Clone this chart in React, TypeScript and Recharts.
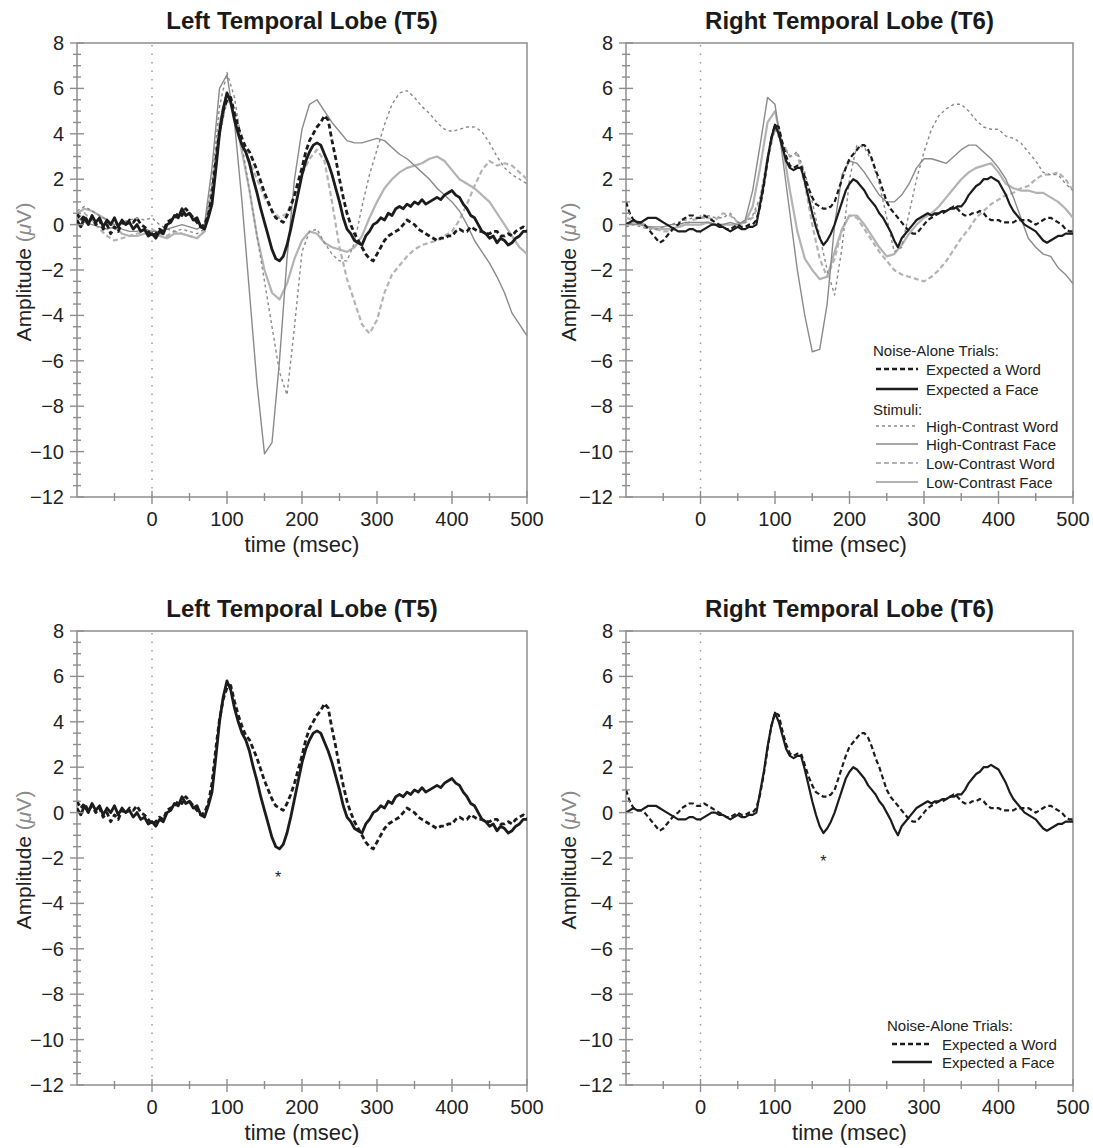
import React from "react";
import {
  LineChart,
  Line,
  XAxis,
  YAxis,
  ReferenceLine,
  ReferenceArea,
  ReferenceDot,
} from "recharts";

const FONT = '"Liberation Sans", Arial, Helvetica, sans-serif';
const AXIS = "#8e8e8e";
const INK = "#1c1c1c";
const MID = "#8a8a8a";
const LIGHT = "#b3b3b3";

// sampling clock of the averaged ERPs (msec)
const grid = (step: number) => {
  const out: number[] = [];
  for (let t = -100; t <= 500; t += step) out.push(t);
  return out;
};
const t5 = grid(5);
const t10 = grid(10);

// ---- T5 (left) noise-alone trials, 5 ms steps
const leftExpWord = [
  0.5, 0.2, 0.4, 0.1, 0.3, 0.0, 0.2, -0.2, 0.0, -0.4,
  -0.1, -0.3, 0.1, 0.0, 0.2, 0.1, 0.3, 0.0, -0.1, -0.3,
  -0.5, -0.4, -0.2, -0.3, 0.1, 0.2, 0.3, 0.5, 0.4, 0.7,
  0.5, 0.3, 0.1, -0.1, 0.0, 0.4, 1.3, 2.8, 4.1, 5.0,
  5.5, 5.6, 4.9, 4.3, 3.8, 3.4, 3.2, 2.8, 2.4, 1.9,
  1.4, 1.0, 0.6, 0.3, 0.2, 0.1, 0.4, 0.8, 1.3, 1.9,
  2.5, 3.2, 3.7, 4.0, 4.3, 4.5, 4.8, 4.6, 3.7, 2.9,
  2.0, 1.2, 0.5, 0.0, -0.4, -0.7, -1.0, -1.3, -1.5, -1.6,
  -1.3, -1.0, -0.7, -0.5, -0.4, -0.3, -0.2, 0.0, 0.2, 0.1,
  0.0, -0.2, -0.3, -0.4, -0.5, -0.6, -0.7, -0.6, -0.6, -0.5,
  -0.5, -0.3, -0.2, -0.3, -0.3, -0.1, -0.2, -0.3, -0.3, -0.4,
  -0.4, -0.3, -0.3, -0.5, -0.5, -0.4, -0.5, -0.3, -0.2, -0.1,
  -0.2,
];
const leftExpFace = [
  0.2, -0.1, 0.3, 0.0, 0.4, 0.1, 0.3, -0.1, 0.2, 0.0,
  0.3, -0.1, 0.2, 0.0, 0.1, -0.2, 0.0, -0.3, -0.2, -0.5,
  -0.4, -0.6, -0.3, -0.4, 0.0, 0.1, 0.4, 0.3, 0.7, 0.4,
  0.5, 0.2, 0.3, -0.1, -0.2, 0.3, 0.9, 2.4, 4.0, 5.1,
  5.8, 5.4, 4.6, 4.0, 3.5, 3.2, 2.7, 2.0, 1.4, 0.7,
  0.1, -0.5, -1.1, -1.5, -1.6, -1.4, -0.9, -0.2, 0.6, 1.4,
  2.2, 2.8, 3.2, 3.5, 3.6, 3.5, 3.1, 2.7, 2.2, 1.6,
  1.0, 0.3, -0.2, -0.4, -0.7, -0.8, -0.9, -0.5, -0.3, 0.0,
  0.1, 0.3, 0.2, 0.5, 0.4, 0.7, 0.8, 0.7, 0.9, 0.8,
  1.0, 0.9, 1.1, 0.9, 1.0, 1.1, 1.2, 1.1, 1.3, 1.4,
  1.5, 1.3, 1.2, 0.9, 0.7, 0.4, 0.3, 0.0, -0.3, -0.4,
  -0.6, -0.5, -0.8, -0.6, -0.7, -0.9, -0.8, -0.6, -0.5, -0.3,
  -0.3,
];

// ---- T5 (left) stimuli, 10 ms steps
const leftHiWord = [
  0.6, 0.8, 0.6, 0.4, 0.2, 0.0, 0.1, 0.2, 0.3, 0.2,
  0.3, 0.0, -0.2, -0.3, -0.2, -0.3, -0.4, -0.2, 2.0, 5.2,
  6.7, 5.6, 3.5, 1.5, -0.5, -2.5, -4.5, -6.5, -7.5, -4.5,
  -1.2, -0.3, -0.2, -0.8, -1.3, -1.6, -1.6, -0.8, 0.8, 2.2,
  3.3, 4.4, 5.3, 5.8, 5.9, 5.6, 5.2, 4.9, 4.5, 4.2,
  4.1, 4.2, 4.3, 4.3, 4.1, 3.6, 3.0, 2.5, 2.2, 2.0,
  1.8,
];
const leftHiFace = [
  0.3, 0.1, 0.0, -0.1, -0.2, -0.1, -0.2, -0.3, -0.3, -0.2,
  -0.3, -0.3, -0.2, -0.1, 0.0, -0.1, -0.2, 0.0, 2.5, 6.0,
  6.6, 4.5, 1.0, -3.0, -7.0, -10.1, -9.6, -6.0, -1.5, 2.0,
  4.2, 5.3, 5.5, 5.0, 4.5, 4.1, 3.7, 3.6, 3.6, 3.7,
  3.8, 3.7, 3.4, 3.1, 2.9, 2.6, 2.3, 2.0, 1.6, 1.3,
  1.0, 0.6, 0.0, -0.7, -1.2, -1.7, -2.3, -3.0, -3.9, -4.4,
  -4.9,
];
const leftLoWord = [
  0.3, 0.5, 0.2, -0.2, -0.5, -0.7, -0.6, -0.5, -0.4, -0.3,
  -0.2, -0.4, -0.5, -0.3, -0.4, -0.5, -0.6, -0.3, 1.2, 4.0,
  5.5, 5.0, 3.6, 2.8, 2.0, 1.2, 0.6, 0.3, 0.5, 1.3,
  2.2, 2.9, 3.3, 2.8, 1.0, -1.0, -2.4, -3.4, -4.4, -4.8,
  -4.2, -3.0, -2.2, -1.8, -1.4, -1.1, -0.9, -0.8, -0.7, -0.5,
  -0.3, 0.2, 0.9, 1.7, 2.4, 2.8, 2.6, 2.7, 2.6, 2.3,
  2.0,
];
const leftLoFace = [
  0.5, 0.7, 0.6, 0.4, 0.2, -0.1, -0.4, -0.5, -0.5, -0.4,
  -0.4, -0.5, -0.6, -0.4, -0.4, -0.5, -0.6, -0.3, 1.5, 4.5,
  5.8, 4.8, 3.2, 1.5, -0.5, -2.0, -3.0, -3.3, -2.6, -1.5,
  -0.7, -0.3, -0.4, -0.8, -1.0, -1.1, -1.2, -1.0, -0.5, 0.3,
  1.0, 1.6, 2.0, 2.3, 2.5, 2.6, 2.7, 2.9, 3.0, 2.8,
  2.4, 2.0, 1.8, 1.6, 1.3, 1.0, 0.5, 0.0, -0.5, -1.0,
  -1.3,
];

// ---- T6 (right) noise-alone trials, 5 ms steps
const rightExpWord = [
  1.0, 0.5, 0.2, 0.1, 0.1, 0.0, -0.2, -0.4, -0.6, -0.8,
  -0.7, -0.5, -0.3, -0.1, 0.0, 0.2, 0.3, 0.4, 0.4, 0.3,
  0.3, 0.4, 0.3, 0.2, 0.1, 0.0, -0.1, -0.2, -0.2, -0.1,
  0.0, -0.1, -0.1, 0.0, 0.0, 0.2, 0.8, 1.7, 2.8, 3.8,
  4.4, 4.3, 3.6, 3.0, 2.6, 2.5, 2.6, 2.6, 2.1, 1.6,
  1.2, 0.9, 0.8, 0.7, 0.7, 0.8, 1.0, 1.5, 2.0, 2.5,
  2.9, 3.1, 3.3, 3.5, 3.5, 3.3, 2.9, 2.4, 2.0, 1.5,
  1.0, 0.7, 0.5, 0.3, 0.1, -0.1, -0.3, -0.4, -0.4, -0.2,
  0.0, 0.2, 0.3, 0.4, 0.5, 0.5, 0.6, 0.7, 0.8, 0.7,
  0.5, 0.4, 0.4, 0.5, 0.5, 0.6, 0.5, 0.3, 0.2, 0.2,
  0.2, 0.1, 0.1, 0.1, 0.1, 0.2, 0.2, 0.2, 0.2, 0.1,
  0.0, 0.1, 0.2, 0.3, 0.3, 0.2, 0.1, 0.0, -0.2, -0.3,
  -0.3,
];
const rightExpFace = [
  0.0, 0.1, 0.2, 0.1, 0.1, 0.2, 0.3, 0.3, 0.3, 0.2,
  0.1, 0.0, -0.1, -0.2, -0.3, -0.3, -0.3, -0.2, -0.2, -0.3,
  -0.3, -0.2, -0.1, 0.0, 0.0, -0.1, -0.1, -0.2, -0.3, -0.2,
  -0.1, -0.2, -0.2, -0.1, -0.1, 0.0, 0.9, 1.8, 2.9, 3.8,
  4.4, 4.0, 3.4, 2.8, 2.5, 2.4, 2.5, 2.5, 1.9, 1.2,
  0.5, -0.1, -0.6, -0.9, -0.7, -0.4, 0.0, 0.5, 1.0, 1.5,
  1.8, 2.0, 1.9, 1.7, 1.5, 1.2, 1.0, 0.8, 0.5, 0.3,
  0.0, -0.3, -0.7, -1.0, -0.6, -0.4, -0.2, 0.0, 0.2, 0.3,
  0.4, 0.5, 0.4, 0.5, 0.5, 0.6, 0.6, 0.7, 0.7, 0.8,
  0.8, 1.0, 1.3, 1.5, 1.7, 1.8, 2.0, 2.0, 2.1, 2.0,
  1.9, 1.6, 1.3, 0.9, 0.6, 0.4, 0.2, 0.0, -0.1, -0.2,
  -0.3, -0.5, -0.7, -0.8, -0.7, -0.6, -0.5, -0.5, -0.4, -0.4,
  -0.4,
];

// ---- T6 (right) stimuli, 10 ms steps
const rightHiWord = [
  -0.1, 0.0, -0.1, -0.2, -0.2, -0.1, 0.0, 0.1, 0.2, 0.3,
  0.3, 0.4, 0.3, 0.3, 0.5, 0.1, 0.1, 0.4, 1.2, 3.0,
  4.2, 3.5, 3.0, 3.2, 2.3, 1.0, -0.5, -2.0, -3.1, -1.0,
  2.0, 3.5, 3.4, 2.8, 1.8, 0.3, -1.2, -1.0, 0.5, 2.0,
  3.2, 4.2, 4.8, 5.1, 5.3, 5.3, 5.0, 4.6, 4.3, 4.2,
  4.2, 3.9, 3.8, 3.6, 3.2, 2.8, 2.3, 2.2, 2.2, 1.8,
  1.5,
];
const rightHiFace = [
  0.1, 0.0, 0.0, -0.1, -0.1, -0.1, 0.0, 0.0, 0.1, 0.1,
  0.1, 0.1, 0.0, 0.0, 0.1, 0.0, 0.2, 1.5, 3.5, 5.6,
  5.3, 3.0, 0.5, -2.0, -4.0, -5.6, -5.5, -3.5, 0.0, 2.2,
  2.8, 2.7, 2.3, 1.8, 1.3, 1.0, 1.0, 1.3, 1.8, 2.5,
  2.9, 2.9, 2.8, 2.7, 3.0, 3.3, 3.5, 3.5, 3.2, 2.9,
  2.5, 2.0, 1.2, 0.3, -0.6, -1.0, -1.3, -1.4, -1.9, -2.2,
  -2.6,
];
const rightLoWord = [
  0.3, 0.2, 0.1, -0.1, -0.2, -0.3, -0.3, -0.1, 0.0, 0.2,
  0.3, 0.3, 0.2, 0.5, 0.4, 0.1, 0.1, 0.3, 1.0, 2.8,
  4.3, 3.6, 3.0, 3.1, 1.8, 0.0, -1.5, -2.3, -1.5, -0.2,
  0.4, 0.3, -0.2, -0.7, -1.2, -1.6, -2.0, -2.2, -2.3, -2.4,
  -2.5, -2.3, -2.0, -1.6, -1.1, -0.6, -0.2, 0.3, 0.6, 0.9,
  1.1, 1.3, 1.4, 1.6, 1.7, 2.0, 2.2, 2.2, 2.3, 2.0,
  1.5,
];
const rightLoFace = [
  0.0, 0.1, 0.0, -0.1, -0.2, -0.2, -0.2, -0.1, 0.0, 0.0,
  0.0, 0.1, 0.0, 0.0, 0.0, 0.0, 0.1, 0.8, 2.5, 4.5,
  5.0, 3.5, 1.5, -0.3, -1.5, -2.0, -2.4, -2.3, -1.2, -0.2,
  0.4, 0.4, 0.0, -0.5, -1.0, -1.4, -1.3, -0.9, -0.4, 0.0,
  0.3, 0.5, 0.8, 1.2, 1.6, 2.0, 2.3, 2.5, 2.6, 2.7,
  2.3, 1.8, 1.6, 1.5, 1.5, 1.4, 1.4, 1.2, 1.0, 0.7,
  0.3,
];

// significance markers (msec, µV)
const starLeft = { t: 168, v: -2.8 };
const starRight = { t: 165, v: -2.1 };

const X_TICKS = [-100, -50, 0, 50, 100, 150, 200, 250, 300, 350, 400, 450, 500];
const X_LABELS = [0, 100, 200, 300, 400, 500];
const Y_LABELS = [8, 6, 4, 2, 0, -2, -4, -6, -8, -10, -12];
const Y_TICKS: number[] = [];
for (let v = 8; v >= -12; v -= 0.5) Y_TICKS.push(v);

type Style = { label: string; color: string; width: number; dash?: string };
const EXP_WORD: Style = { label: "Expected a Word", color: INK, width: 2.5, dash: "5 3" };
const EXP_FACE: Style = { label: "Expected a Face", color: INK, width: 2.5 };
const HI_WORD: Style = { label: "High-Contrast Word", color: MID, width: 1.4, dash: "3 3" };
const HI_FACE: Style = { label: "High-Contrast Face", color: MID, width: 1.4 };
const LO_WORD: Style = { label: "Low-Contrast Word", color: LIGHT, width: 2.2, dash: "5 3" };
const LO_FACE: Style = { label: "Low-Contrast Face", color: LIGHT, width: 2.2 };

type Series = Style & { t: number[]; v: number[] };
const pts = (t: number[], v: number[]) => t.map((x, i) => ({ t: x, v: v[i] }));
const fmt = (v: number) => (v < 0 ? `\u2212${Math.abs(v)}` : `${v}`);

const XTick = (p: any) => {
  const v = p.payload.value;
  const major = v % 100 === 0;
  return (
    <g>
      {v > -100 && (
        <line x1={p.x} x2={p.x} y1={p.y - (major ? 6 : 4)} y2={p.y + (major ? 7 : 4)} stroke={AXIS} strokeWidth={1.4} />
      )}
      {X_LABELS.includes(v) && (
        <text x={p.x} y={p.y + 29} textAnchor="middle" fontSize={20} fill="#222" fontFamily={FONT}>
          {v}
        </text>
      )}
    </g>
  );
};

const YTick = (p: any) => {
  const v = p.payload.value;
  const major = Y_LABELS.includes(v);
  return (
    <g>
      <line x1={p.x - (major ? 7 : 4)} x2={p.x + (major ? 7 : 4)} y1={p.y} y2={p.y} stroke={AXIS} strokeWidth={1.4} />
      {major && (
        <text x={p.x - 13} y={p.y + 7} textAnchor="end" fontSize={20} fill="#222" fontFamily={FONT}>
          {fmt(v)}
        </text>
      )}
    </g>
  );
};

type Row = { head?: string; item?: Style; y: number };
type LegendSpec = { headX: number; s1: number; s2: number; textX: number; rows: Row[] };

const W = 545;
const H = 585;

function Panel({
  x, y, title, plotLeft, marginRight, series, legend, star,
}: {
  x: number; y: number; title: string; plotLeft: number; marginRight: number;
  series: Series[]; legend: LegendSpec; star?: { t: number; v: number };
}) {
  const cx = (plotLeft + W - marginRight) / 2;
  return (
    <div style={{ position: "absolute", left: x, top: y, width: W, height: H }}>
      <LineChart width={W} height={H} margin={{ top: 43, right: marginRight, bottom: 0, left: 0 }}>
        <XAxis
          type="number" dataKey="t" domain={[-100, 500]} ticks={X_TICKS} interval={0}
          tick={(p: any) => <XTick {...p} />} tickSize={0} tickMargin={0} tickLine={false}
          axisLine={false} height={88} allowDataOverflow
        />
        <YAxis
          type="number" domain={[-12, 8]} ticks={Y_TICKS} interval={0}
          tick={(p: any) => <YTick {...p} />} tickSize={0} tickMargin={0} tickLine={false}
          axisLine={false} width={plotLeft} allowDataOverflow
        />
        <ReferenceLine x={0} stroke="#9a9a9a" strokeDasharray="1.5 7" strokeWidth={1.5} />
        {series.map((s) => (
          <Line
            key={s.label}
            data={pts(s.t, s.v)}
            dataKey="v"
            type="linear"
            stroke={s.color}
            strokeWidth={s.width}
            strokeDasharray={s.dash}
            strokeLinejoin="round"
            dot={false}
            activeDot={false}
            isAnimationActive={false}
          />
        ))}
        <ReferenceArea x1={-100} x2={500} y1={-12} y2={8} fill="none" stroke={AXIS} strokeWidth={1.5} />
        {star && (
          <ReferenceDot
            x={star.t}
            y={star.v}
            r={0}
            shape={(p: any) => (
              <text x={p.cx} y={p.cy + 7} textAnchor="middle" fontSize={16} fill="#222" fontFamily={FONT}>
                *
              </text>
            )}
          />
        )}
      </LineChart>
      <svg width={W} height={H} style={{ position: "absolute", left: 0, top: 0, pointerEvents: "none" }} fontFamily={FONT}>
        <text x={cx} y={29} textAnchor="middle" fontSize={24} fontWeight="bold" fill="#1a1a1a">
          {title}
        </text>
        <text x={cx} y={552} textAnchor="middle" fontSize={22} fill="#222">
          time (msec)
        </text>
        <text transform="translate(23,272) rotate(-90)" y={7.5} textAnchor="middle" fontSize={21} fill="#222">
          Amplitude{" "}
          <tspan fill="#8a8a8a">
            (<tspan fontStyle="italic">μ</tspan>V)
          </tspan>
        </text>
        {legend.rows.map((r, i) =>
          r.head ? (
            <text key={i} x={legend.headX} y={r.y} dominantBaseline="central" fontSize={15} fill="#222">
              {r.head}
            </text>
          ) : (
            <g key={i}>
              <line
                x1={legend.s1} x2={legend.s2} y1={r.y} y2={r.y}
                stroke={r.item!.color} strokeWidth={r.item!.width} strokeDasharray={r.item!.dash}
              />
              <text x={legend.textX} y={r.y} dominantBaseline="central" fontSize={15} fill="#222">
                {r.item!.label}
              </text>
            </g>
          )
        )}
      </svg>
    </div>
  );
}

const leftNoise: Series[] = [
  { ...EXP_WORD, t: t5, v: leftExpWord, width: 2.8 },
  { ...EXP_FACE, t: t5, v: leftExpFace, width: 2.8 },
];
const rightNoise: Series[] = [
  { ...EXP_WORD, t: t5, v: rightExpWord, width: 2.2 },
  { ...EXP_FACE, t: t5, v: rightExpFace, width: 2.2 },
];
const leftAll: Series[] = [
  { ...LO_FACE, t: t10, v: leftLoFace },
  { ...LO_WORD, t: t10, v: leftLoWord },
  { ...HI_FACE, t: t10, v: leftHiFace },
  { ...HI_WORD, t: t10, v: leftHiWord },
  ...leftNoise,
];
const rightAll: Series[] = [
  { ...LO_FACE, t: t10, v: rightLoFace },
  { ...LO_WORD, t: t10, v: rightLoWord },
  { ...HI_FACE, t: t10, v: rightHiFace },
  { ...HI_WORD, t: t10, v: rightHiWord },
  ...rightNoise,
];

const fullLegend: LegendSpec = {
  headX: 328, s1: 331, s2: 373, textX: 381,
  rows: [
    { head: "Noise-Alone Trials:", y: 350 },
    { item: EXP_WORD, y: 369 },
    { item: EXP_FACE, y: 389 },
    { head: "Stimuli:", y: 409 },
    { item: HI_WORD, y: 426 },
    { item: HI_FACE, y: 444 },
    { item: LO_WORD, y: 463 },
    { item: LO_FACE, y: 482 },
  ],
};
const noiseLegend: LegendSpec = {
  headX: 342, s1: 347, s2: 387, textX: 397,
  rows: [
    { head: "Noise-Alone Trials:", y: 437 },
    { item: EXP_WORD, y: 456 },
    { item: EXP_FACE, y: 474 },
  ],
};
const noLegend: LegendSpec = { headX: 0, s1: 0, s2: 0, textX: 0, rows: [] };

export default function App() {
  return (
    <div
      style={{
        position: "absolute", left: 0, top: 0, width: 1093, height: 1148,
        background: "#fff", fontFamily: FONT, overflow: "hidden",
      }}
    >
      <Panel x={0} y={0} title="Left Temporal Lobe (T5)" plotLeft={77} marginRight={18} series={leftAll} legend={noLegend} />
      <Panel x={545} y={0} title="Right Temporal Lobe (T6)" plotLeft={81} marginRight={17} series={rightAll} legend={fullLegend} />
      <Panel x={0} y={588} title="Left Temporal Lobe (T5)" plotLeft={77} marginRight={18} series={leftNoise} legend={noLegend} star={starLeft} />
      <Panel x={545} y={588} title="Right Temporal Lobe (T6)" plotLeft={81} marginRight={17} series={rightNoise} legend={noiseLegend} star={starRight} />
    </div>
  );
}
